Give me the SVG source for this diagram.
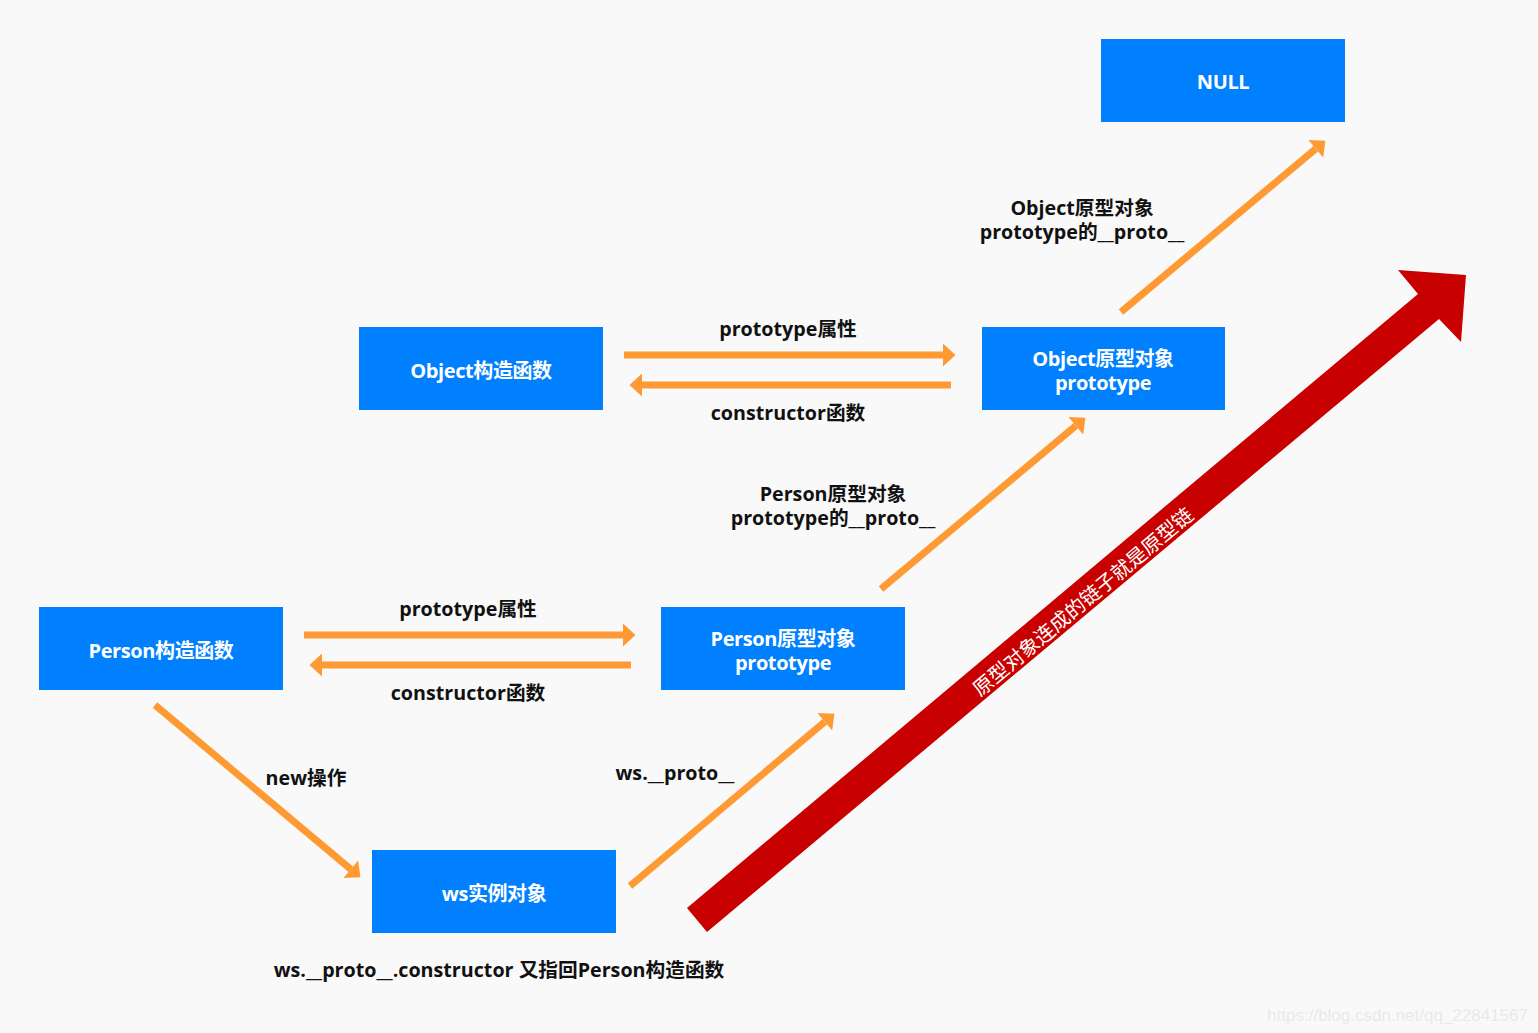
<svg xmlns="http://www.w3.org/2000/svg" width="1538" height="1033" viewBox="0 0 1538 1033">
<style>
.box{fill:#0080ff}
.bt{font-family:"Open Sans","Noto Sans CJK SC",sans-serif;font-weight:bold;font-size:20px;fill:#ffffff;text-anchor:middle;letter-spacing:-0.4px}
.lt{font-family:"Open Sans","Noto Sans CJK SC",sans-serif;font-weight:bold;font-size:19.7px;fill:#111111;text-anchor:middle}
.ln{stroke:#ff9933;stroke-width:7;fill:none;marker-end:url(#ah)}
</style>
<defs>
<marker id="ah" markerUnits="userSpaceOnUse" markerWidth="14" markerHeight="24" refX="0" refY="11.5" orient="auto" overflow="visible">
<path d="M0,0 L12.5,11.5 L0,23 z" fill="#ff9933"/>
</marker>
</defs>
<rect width="1538" height="1033" fill="#f9f9f9"/>
<g id="nodes">
<g id="null"><rect class="box" x="1101" y="39" width="244" height="83"/><text class="bt" x="1223" y="89">NULL</text></g>
<g id="object-ctor"><rect class="box" x="359" y="327" width="244" height="83"/><text class="bt" x="481" y="378">Object构造函数</text></g>
<g id="object-proto"><rect class="box" x="982" y="327" width="243" height="83"/><text class="bt" x="1103" y="366">Object原型对象</text><text class="bt" x="1103" y="390">prototype</text></g>
<g id="person-ctor"><rect class="box" x="39" y="607" width="244" height="83"/><text class="bt" x="161" y="658">Person构造函数</text></g>
<g id="person-proto"><rect class="box" x="661" y="607" width="244" height="83"/><text class="bt" x="783" y="646">Person原型对象</text><text class="bt" x="783" y="670">prototype</text></g>
<g id="ws"><rect class="box" x="372" y="850" width="244" height="83"/><text class="bt" x="494" y="901">ws实例对象</text></g>
</g>
<g id="connectors">
<line class="ln" x1="1121" y1="312" x2="1315.8" y2="148.7"/>
<line class="ln" x1="624" y1="355" x2="943" y2="355"/>
<line class="ln" x1="951" y1="385" x2="642" y2="385"/>
<line class="ln" x1="881" y1="589" x2="1075.8" y2="425.7"/>
<line class="ln" x1="304" y1="635" x2="623" y2="635"/>
<line class="ln" x1="631" y1="665" x2="322" y2="665"/>
<line class="ln" x1="155" y1="705" x2="350.8" y2="869.3"/>
<line class="ln" x1="630" y1="886" x2="824.8" y2="721.7"/>
</g>
<g id="labels">
<text class="lt" x="1082" y="215">Object原型对象</text>
<text class="lt" x="1082" y="239">prototype的__proto__</text>
<text class="lt" x="788" y="336">prototype属性</text>
<text class="lt" x="788" y="420">constructor函数</text>
<text class="lt" x="833" y="501">Person原型对象</text>
<text class="lt" x="833" y="525">prototype的__proto__</text>
<text class="lt" x="468" y="616">prototype属性</text>
<text class="lt" x="468" y="700">constructor函数</text>
<text class="lt" x="306" y="785">new操作</text>
<text class="lt" x="675" y="780">ws.__proto__</text>
<text class="lt" x="499" y="977">ws.__proto__.constructor 又指回Person构造函数</text>
</g>
<g id="chain">
<polygon points="687,908 1418,294 1398,270 1466,275 1461,342 1439,319 707,932" fill="#c80000"/>
<text x="1083" y="609" transform="rotate(-40 1083 602)" font-family="'Noto Sans CJK SC',sans-serif" font-size="20" fill="#ffffff" text-anchor="middle">原型对象连成的链子就是原型链</text>
</g>
<text x="1528" y="1021" font-family="'Liberation Sans',sans-serif" font-size="17" fill="#e9e9e9" text-anchor="end">https://blog.csdn.net/qq_22841567</text>
</svg>
